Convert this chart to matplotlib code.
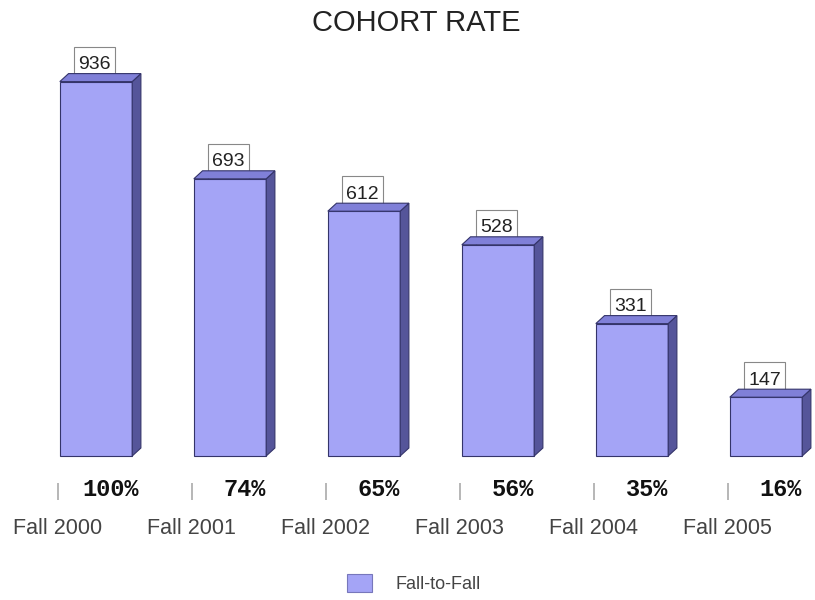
import numpy as np
import matplotlib.pyplot as plt
from matplotlib.patches import Polygon, Patch, Rectangle

# data
terms = ['Fall 2000', 'Fall 2001', 'Fall 2002', 'Fall 2003', 'Fall 2004', 'Fall 2005']
counts = [936, 693, 612, 528, 331, 147]
rates = [100, 74, 65, 56, 35, 16]

front = '#a4a4f6'
top_c = '#8080d8'
side_c = '#55559a'
edge = '#34346a'

plt.rcParams['font.family'] = ['Liberation Sans', 'DejaVu Sans']

fig = plt.figure(figsize=(8.15, 6.0), dpi=100)
ax = fig.add_axes([0, 0, 1, 1])
ax.set_xlim(-96 / 134, (815 - 96) / 134)
ax.set_ylim(-360, 1140)
ax.axis('off')

x = np.arange(len(counts))
w = 0.54
dx, dy = 0.065, 20   # 3d depth

ax.bar(x, counts, width=w, color=front, edgecolor=edge, linewidth=0.8, zorder=3)
for xi, v in zip(x, counts):
    l, r = xi - w / 2, xi + w / 2
    # side face
    ax.add_patch(Polygon([(r, 0), (r + dx, dy), (r + dx, v + dy), (r, v)],
                         closed=True, fc=side_c, ec=edge, lw=0.8, zorder=3))
    # top face
    ax.add_patch(Polygon([(l, v), (l + dx, v + dy), (r + dx, v + dy), (r, v)],
                         closed=True, fc=top_c, ec=edge, lw=0.8, zorder=3))
    # value box, bottom tucked behind the bar
    ax.add_patch(Rectangle((xi - 0.165, v - 10), 0.31, 97, fc='white', ec='#888888',
                           lw=0.8, zorder=2))
    ax.text(xi - 0.01, v + 42, str(v), ha='center', va='center', fontsize=14,
            color='#222222', zorder=2.5)

# ticks, percents and category labels under the bars
ax.vlines(x - 0.285, -68, -110, color='#aaaaaa', lw=1.2)
for xi, p in zip(x, rates):
    ax.text(xi + 0.11, -85, f'{p}%', ha='center', va='center', fontsize=17,
            family='Liberation Mono', fontweight='bold', color='#111111')
for xi, t in zip(x, terms):
    ax.text(xi - 0.285, -180, t, ha='center', va='center', fontsize=15.5, color='#444444')

fig.text(0.511, 1 - 23 / 600, 'COHORT RATE', ha='center', va='center', fontsize=21, color='#222222')

leg = fig.legend(handles=[Patch(fc=front, ec='#7777bb', lw=0.8, label='Fall-to-Fall')],
                 loc='center', bbox_to_anchor=(0.508, 0.028), frameon=False, fontsize=13,
                 handlelength=1.4, handleheight=1.2, handletextpad=1.3)
for t in leg.get_texts():
    t.set_color('#444444')

fig.savefig('out.png', dpi=100)
